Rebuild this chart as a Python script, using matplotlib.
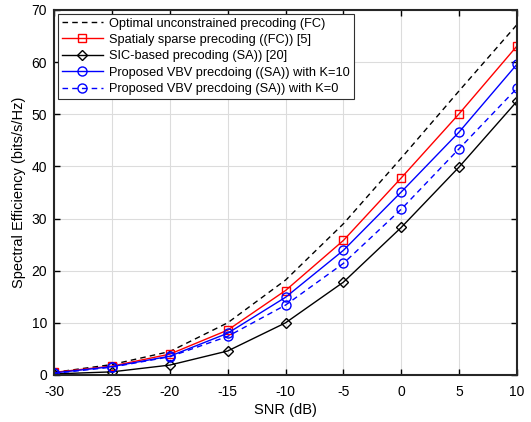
import matplotlib
matplotlib.use("Agg")
import matplotlib.pyplot as plt

plt.rcParams['font.family'] = ['Liberation Sans', 'DejaVu Sans']
plt.rcParams['axes.unicode_minus'] = False

snr = [-30, -25, -20, -15, -10, -5, 0, 5, 10]

optimal_fc = [0.5, 2.0, 4.5, 10.0, 18.2, 29.0, 41.6, 54.5, 67.2]
sparse_fc = [0.5, 1.7, 4.0, 8.6, 16.2, 25.8, 37.8, 50.1, 63.1]
sic_sa = [0.2, 0.6, 1.9, 4.6, 10.0, 17.8, 28.3, 39.9, 52.5]
vbv_k10 = [0.4, 1.6, 3.6, 8.0, 14.9, 23.9, 35.1, 46.6, 59.6]
vbv_k0 = [0.3, 1.5, 3.5, 7.4, 13.4, 21.4, 31.8, 43.4, 55.0]

labels = [
    "Optimal unconstrained precoding (FC)",
    "Spatialy sparse precoding ((FC)) [5]",
    "SIC-based precoding (SA)) [20]",
    "Proposed VBV precdoing ((SA)) with K=10",
    "Proposed VBV precdoing (SA)) with K=0",
]

dash = (4, 3)

fig = plt.figure(figsize=(5.31, 4.22), dpi=100)
ax = fig.add_axes([0.1017, 0.1114, 0.872, 0.865])

ax.plot(snr, optimal_fc, color='black', ls=(0, dash), lw=1.0, label=labels[0])
ax.plot(snr, sparse_fc, color='red', lw=1.0, marker='s', ms=5.5,
        mfc='none', mew=1.0, label=labels[1])
ax.plot(snr, sic_sa, color='black', lw=1.0, marker='D', ms=5.5,
        mfc='none', mew=1.0, label=labels[2])
ax.plot(snr, vbv_k10, color='blue', lw=1.0, marker='o', ms=6.5,
        mfc='none', mew=1.0, label=labels[3])
ax.plot(snr, vbv_k0, color='blue', ls=(0, dash), lw=1.0, marker='o', ms=6.5,
        mfc='none', mew=1.0, label=labels[4])

ax.set_xlim(-30, 10)
ax.set_ylim(0, 70)
ax.set_xticks(snr)
ax.set_yticks(range(0, 71, 10))
ax.set_xlabel('SNR (dB)', fontsize=10.5, labelpad=3)
ax.set_ylabel('Spectral Efficiency (bits/s/Hz)', fontsize=10.5)
ax.tick_params(direction='in', top=True, right=True, labelsize=10, length=4, width=1.0)
ax.tick_params(axis='x', pad=7)
ax.tick_params(axis='y', pad=5)
ax.grid(True, color='#dcdcdc', lw=0.8)
ax.set_axisbelow(True)
for sp in ax.spines.values():
    sp.set_linewidth(1.5)
    sp.set_color('#262626')

leg = ax.legend(loc='upper left', fontsize=9.2, fancybox=False, framealpha=1,
                edgecolor='#303030', borderpad=0.3, labelspacing=0.34,
                handlelength=3.2, handletextpad=0.5, borderaxespad=0.3)
leg.get_frame().set_linewidth(0.8)

fig.savefig('out.png', dpi=100)
